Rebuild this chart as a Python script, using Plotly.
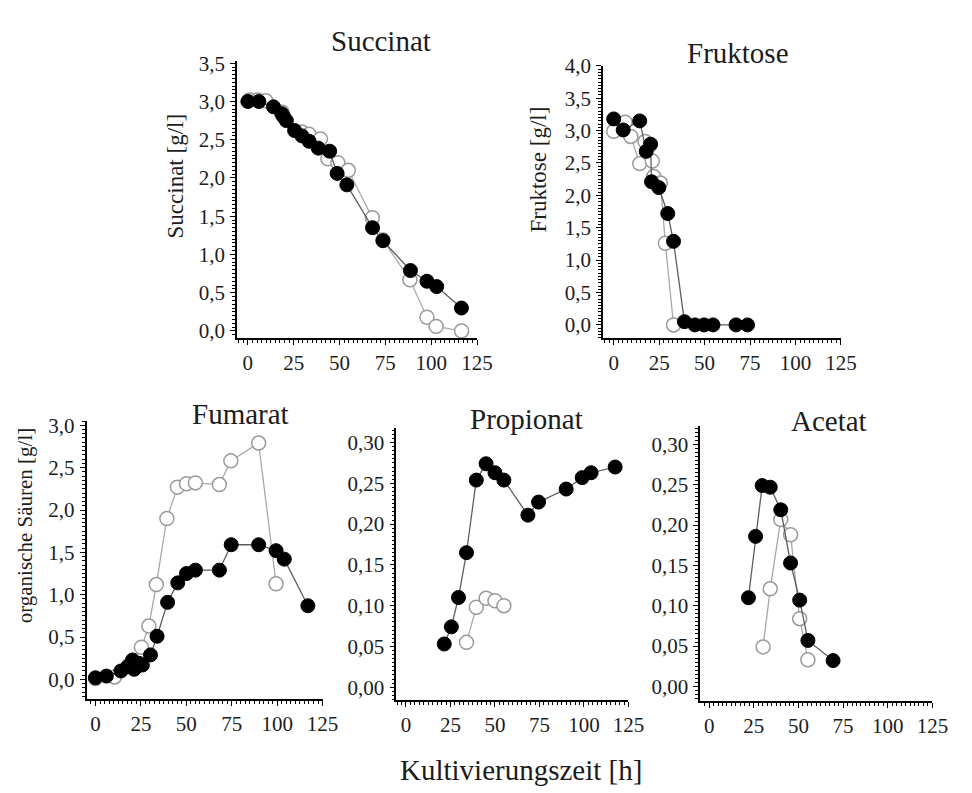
import plotly.graph_objects as go

W, H = 972, 793

# ---------------- data ----------------
succ_t_filled = [0, 6, 14, 18.5, 19.5, 21, 25.5, 29.5, 33.4, 38.4, 44.6, 48.7, 54, 68, 73.7, 88.7, 97.7, 103, 116.5]
succ_filled = [3.0, 3.0, 2.93, 2.84, 2.80, 2.75, 2.62, 2.55, 2.48, 2.39, 2.35, 2.06, 1.91, 1.35, 1.18, 0.79, 0.65, 0.58, 0.30]
succ_t_open = [0.9, 5.4, 9.8, 18.7, 29.5, 33.4, 39.6, 43.7, 49.1, 54.8, 67.9, 73.7, 88.4, 97.7, 102.7, 116.6]
succ_open = [3.02, 3.02, 3.01, 2.86, 2.60, 2.57, 2.51, 2.25, 2.20, 2.10, 1.48, 1.19, 0.67, 0.18, 0.06, 0.0]

fruk_t_filled = [0, 5.2, 14.3, 17.9, 20.3, 20.8, 24.8, 29.7, 32.9, 38.9, 44.7, 49.7, 54.6, 67.3, 73.6]
fruk_filled = [3.18, 3.01, 3.15, 2.68, 2.79, 2.21, 2.12, 1.72, 1.29, 0.05, 0.0, 0.0, 0.0, 0.0, 0.0]
fruk_t_open = [0, 6.3, 9.4, 14.3, 17.2, 21.2, 22, 25.7, 28.4, 32.9]
fruk_open = [2.99, 3.13, 2.91, 2.49, 2.83, 2.53, 2.29, 2.19, 1.26, 0.0]

fum_t_filled = [0, 6, 14, 17.7, 20.4, 21.3, 24, 25.8, 30.3, 33.9, 39.7, 45.3, 50.1, 55, 68.2, 74.7, 89.8, 99.4, 103.9, 116.9]
fum_filled = [0.02, 0.04, 0.10, 0.15, 0.23, 0.12, 0.19, 0.17, 0.29, 0.51, 0.91, 1.14, 1.25, 1.29, 1.29, 1.59, 1.59, 1.52, 1.42, 0.87]
fum_t_open = [0, 10.5, 18.6, 25.3, 29.4, 33.5, 39.3, 45.1, 50.1, 55, 68.2, 74.5, 89.8, 99.4]
fum_open = [0.01, 0.03, 0.17, 0.38, 0.63, 1.12, 1.90, 2.27, 2.31, 2.32, 2.30, 2.58, 2.79, 1.13]

prop_t_filled = [21.5, 25.5, 29.5, 34, 39.5, 45, 50, 55, 68.5, 74.5, 90, 99, 104, 117.5]
prop_filled = [0.053, 0.074, 0.110, 0.165, 0.254, 0.274, 0.263, 0.254, 0.211, 0.227, 0.243, 0.257, 0.263, 0.270]
prop_t_open = [34, 39.5, 45, 50, 55]
prop_open = [0.055, 0.098, 0.109, 0.106, 0.100]

acet_t_filled = [22, 26, 29.7, 34.2, 40.1, 45.6, 50.7, 55.3, 69.4]
acet_filled = [0.110, 0.186, 0.249, 0.247, 0.219, 0.153, 0.107, 0.057, 0.032]
acet_t_open = [30.2, 34.2, 40.1, 45.6, 50.7, 55.3]
acet_open = [0.049, 0.121, 0.207, 0.188, 0.084, 0.033]

panel_titles = ["Succinat", "Fruktose", "Fumarat", "Propionat", "Acetat"]
y_titles = ["Succinat [g/l]", "Fruktose [g/l]", "organische Säuren [g/l]"]
x_title = "Kultivierungszeit [h]"
x_ticks = [0, 25, 50, 75, 100, 125]

# ---------------- layout helpers ----------------
def px(x):
    return x / W

def py(y):
    return 1 - y / H

FONT = "Liberation Serif, Times New Roman, serif"
TXT = "#1c1c1c"
FILLED_LINE = "#5e5e5e"
OPEN_LINE = "#a8a8a8"

panels = [
    dict(xd=(241, 485), yd=(333, 50), xr=(-5.9, 125), yr=(-0.09, 3.53), yt=[0, 0.5, 1, 1.5, 2, 2.5, 3, 3.5], fmt=".1f", ymin=0.05,
         data=[(succ_t_filled, succ_filled), (succ_t_open, succ_open)]),
    dict(xd=(613, 855), yd=(333, 55), xr=(-5.95, 125), yr=(-0.2, 4.0), yt=[0, 0.5, 1, 1.5, 2, 2.5, 3, 3.5, 4], fmt=".1f", ymin=0.05,
         data=[(fruk_t_filled, fruk_filled), (fruk_t_open, fruk_open)]),
    dict(xd=(88, 328), yd=(702, 418), xr=(-4.9, 125), yr=(-0.23, 3.05), yt=[0, 0.5, 1, 1.5, 2, 2.5, 3], fmt=".1f", ymin=0.05,
         data=[(fum_t_filled, fum_filled), (fum_t_open, fum_open)]),
    dict(xd=(403, 639), yd=(703, 425), xr=(-5.4, 125), yr=(-0.0156, 0.318), yt=[0, 0.05, 0.1, 0.15, 0.2, 0.25, 0.3], fmt=".2f", ymin=0.005,
         data=[(prop_t_filled, prop_filled), (prop_t_open, prop_open)]),
    dict(xd=(712, 948), yd=(704, 423), xr=(-4.96, 125), yr=(-0.018, 0.323), yt=[0, 0.05, 0.1, 0.15, 0.2, 0.25, 0.3], fmt=".2f", ymin=0.005,
         data=[(acet_t_filled, acet_filled), (acet_t_open, acet_open)]),
]

fig = go.Figure()
layout = dict(
    width=W, height=H, margin=dict(l=0, r=0, t=0, b=0),
    paper_bgcolor="white", plot_bgcolor="white",
    showlegend=False, separators=",.",
    font=dict(family=FONT, color=TXT),
)

annotations = []
for i, p in enumerate(panels, start=1):
    xa = "x" if i == 1 else f"x{i}"
    ya = "y" if i == 1 else f"y{i}"
    (tf, vf), (to, vo) = p["data"]
    fig.add_trace(go.Scatter(
        x=to, y=vo, xaxis=xa, yaxis=ya, mode="lines+markers",
        line=dict(color=OPEN_LINE, width=1.3),
        marker=dict(size=14, color="white", line=dict(color="#9a9a9a", width=1.5)),
        cliponaxis=False,
    ))
    fig.add_trace(go.Scatter(
        x=tf, y=vf, xaxis=xa, yaxis=ya, mode="lines+markers",
        line=dict(color=FILLED_LINE, width=1.3),
        marker=dict(size=14, color="black", line=dict(color="black", width=1)),
        cliponaxis=False,
    ))
    common = dict(showgrid=False, zeroline=False, showline=True, linecolor="black", linewidth=1.6,
                  ticks="outside", ticklen=5, tickwidth=1.4, tickcolor="black",
                  tickfont=dict(family=FONT, size=21, color=TXT), fixedrange=True)
    layout[f"xaxis{'' if i == 1 else i}"] = dict(
        domain=[px(p["xd"][0]), px(p["xd"][1])], range=list(p["xr"]), anchor=ya,
        tickvals=x_ticks, ticktext=[str(v) for v in x_ticks],
        minor=dict(ticks="outside", ticklen=3, tickwidth=1.2, tickcolor="black", dtick=2.5, tick0=0),
        **common)
    layout[f"yaxis{'' if i == 1 else i}"] = dict(
        domain=[py(p["yd"][0]), py(p["yd"][1])], range=list(p["yr"]), anchor=xa,
        tickvals=p["yt"], tickformat=p["fmt"], ticklabelstandoff=1,
        minor=dict(ticks="outside", ticklen=3, tickwidth=1.2, tickcolor="black", dtick=p["ymin"], tick0=0),
        **common)

# panel titles
title_pos = [(387, 30), (750, 42), (245, 411), (535, 416), (843, 418)]
for t, (x, y) in zip(panel_titles, title_pos):
    annotations.append(dict(text=t, x=px(x), y=py(y), xref="paper", yref="paper",
                            showarrow=False, xanchor="center", yanchor="middle",
                            font=dict(family=FONT, size=29, color=TXT)))

# y titles
ytitle_pos = [(178, 168, 23), (548, 161, 23), (25, 525, 21)]
for t, (x, y, s) in zip(y_titles, ytitle_pos):
    annotations.append(dict(text=t, x=px(x), y=py(y), xref="paper", yref="paper",
                            showarrow=False, xanchor="center", yanchor="middle", textangle=-90,
                            font=dict(family=FONT, size=s, color=TXT)))

annotations.append(dict(text=x_title, x=px(530), y=py(775), xref="paper", yref="paper",
                        showarrow=False, xanchor="center", yanchor="middle",
                        font=dict(family=FONT, size=29, color=TXT)))

layout["annotations"] = annotations
fig.update_layout(**layout)
fig.write_html("out.html")
